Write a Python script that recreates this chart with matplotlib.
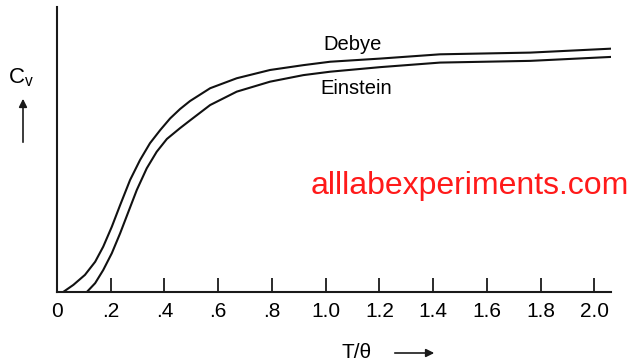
# Specific heat vs T/theta: Debye and Einstein curves

import matplotlib.pyplot as plt

plt.rcParams['font.family'] = ['Liberation Sans', 'DejaVu Sans']

# Data (C_v in relative units)
debye_x = [0.023, 0.061, 0.104, 0.142, 0.172, 0.204, 0.235, 0.272, 0.309, 0.346, 0.384, 0.421,
           0.458, 0.495, 0.570, 0.669, 0.793, 0.917, 1.017, 1.203, 1.426, 1.762, 2.066]
debye_y = [0.0, 0.025, 0.060, 0.106, 0.159, 0.229, 0.305, 0.393, 0.463, 0.522, 0.568, 0.609,
           0.642, 0.670, 0.715, 0.750, 0.779, 0.796, 0.808, 0.819, 0.834, 0.840, 0.854]

einstein_x = [0.111, 0.142, 0.172, 0.204, 0.235, 0.266, 0.297, 0.334, 0.371, 0.409, 0.458,
              0.495, 0.570, 0.669, 0.793, 0.917, 1.017, 1.203, 1.426, 1.762, 2.066]
einstein_y = [0.0, 0.031, 0.077, 0.136, 0.206, 0.282, 0.358, 0.434, 0.492, 0.537, 0.575,
              0.602, 0.656, 0.703, 0.738, 0.761, 0.773, 0.789, 0.805, 0.811, 0.825]

tick_pos = [0, 0.2, 0.4, 0.6, 0.8, 1.0, 1.2, 1.4, 1.6, 1.8, 2.0]
tick_labels = ["0", ".2", ".4", ".6", ".8", "1.0", "1.2", "1.4", "1.6", "1.8", "2.0"]

fig = plt.figure(figsize=(6.31, 3.63), dpi=100)
ax = fig.add_axes([57 / 631, 71 / 363, 554 / 631, 285 / 363])

ax.plot(debye_x, debye_y, color='#111111', lw=1.5, solid_joinstyle='round')
ax.plot(einstein_x, einstein_y, color='#111111', lw=1.5, solid_joinstyle='round')

ax.set_xlim(0, 2.062)
ax.set_ylim(0, 1)

for side in ['top', 'right']:
    ax.spines[side].set_visible(False)
for side in ['left', 'bottom']:
    ax.spines[side].set_linewidth(1.5)
    ax.spines[side].set_color('#1a1a1a')

ax.set_xticks(tick_pos)
ax.set_xticklabels(tick_labels, fontsize=15)
ax.set_yticks([])
ax.tick_params(axis='x', direction='in', length=10, width=1.3, pad=7, color='#1a1a1a')

# Curve labels
fig.text(353 / 631, 1 - 45 / 363, "Debye", fontsize=14.5, ha='center', va='center')
fig.text(356 / 631, 1 - 89 / 363, "Einstein", fontsize=14.5, ha='center', va='center')

# Watermark
fig.text(470 / 631, 1 - 186 / 363, "alllabexperiments.com", fontsize=23,
         color='#ff1a1a', ha='center', va='center')

# Axis labels with arrows
fig.text(357 / 631, 1 - 352 / 363, "T/\u03b8", fontsize=15, ha='center', va='center')
fig.add_artist(plt.Annotation("", xy=(437 / 631, 1 - 353 / 363), xytext=(392 / 631, 1 - 353 / 363),
                              xycoords='figure fraction',
                              arrowprops=dict(arrowstyle='-|>', color='#1a1a1a', lw=1.2,
                                              mutation_scale=12)))
fig.text(21 / 631, 1 - 78 / 363, "C$_\\mathregular{v}$", fontsize=16, ha='center', va='center')
fig.add_artist(plt.Annotation("", xy=(23 / 631, 1 - 96 / 363), xytext=(23 / 631, 1 - 145 / 363),
                              xycoords='figure fraction',
                              arrowprops=dict(arrowstyle='-|>', color='#1a1a1a', lw=1.2,
                                              mutation_scale=12)))

fig.savefig("out.png", dpi=100)
